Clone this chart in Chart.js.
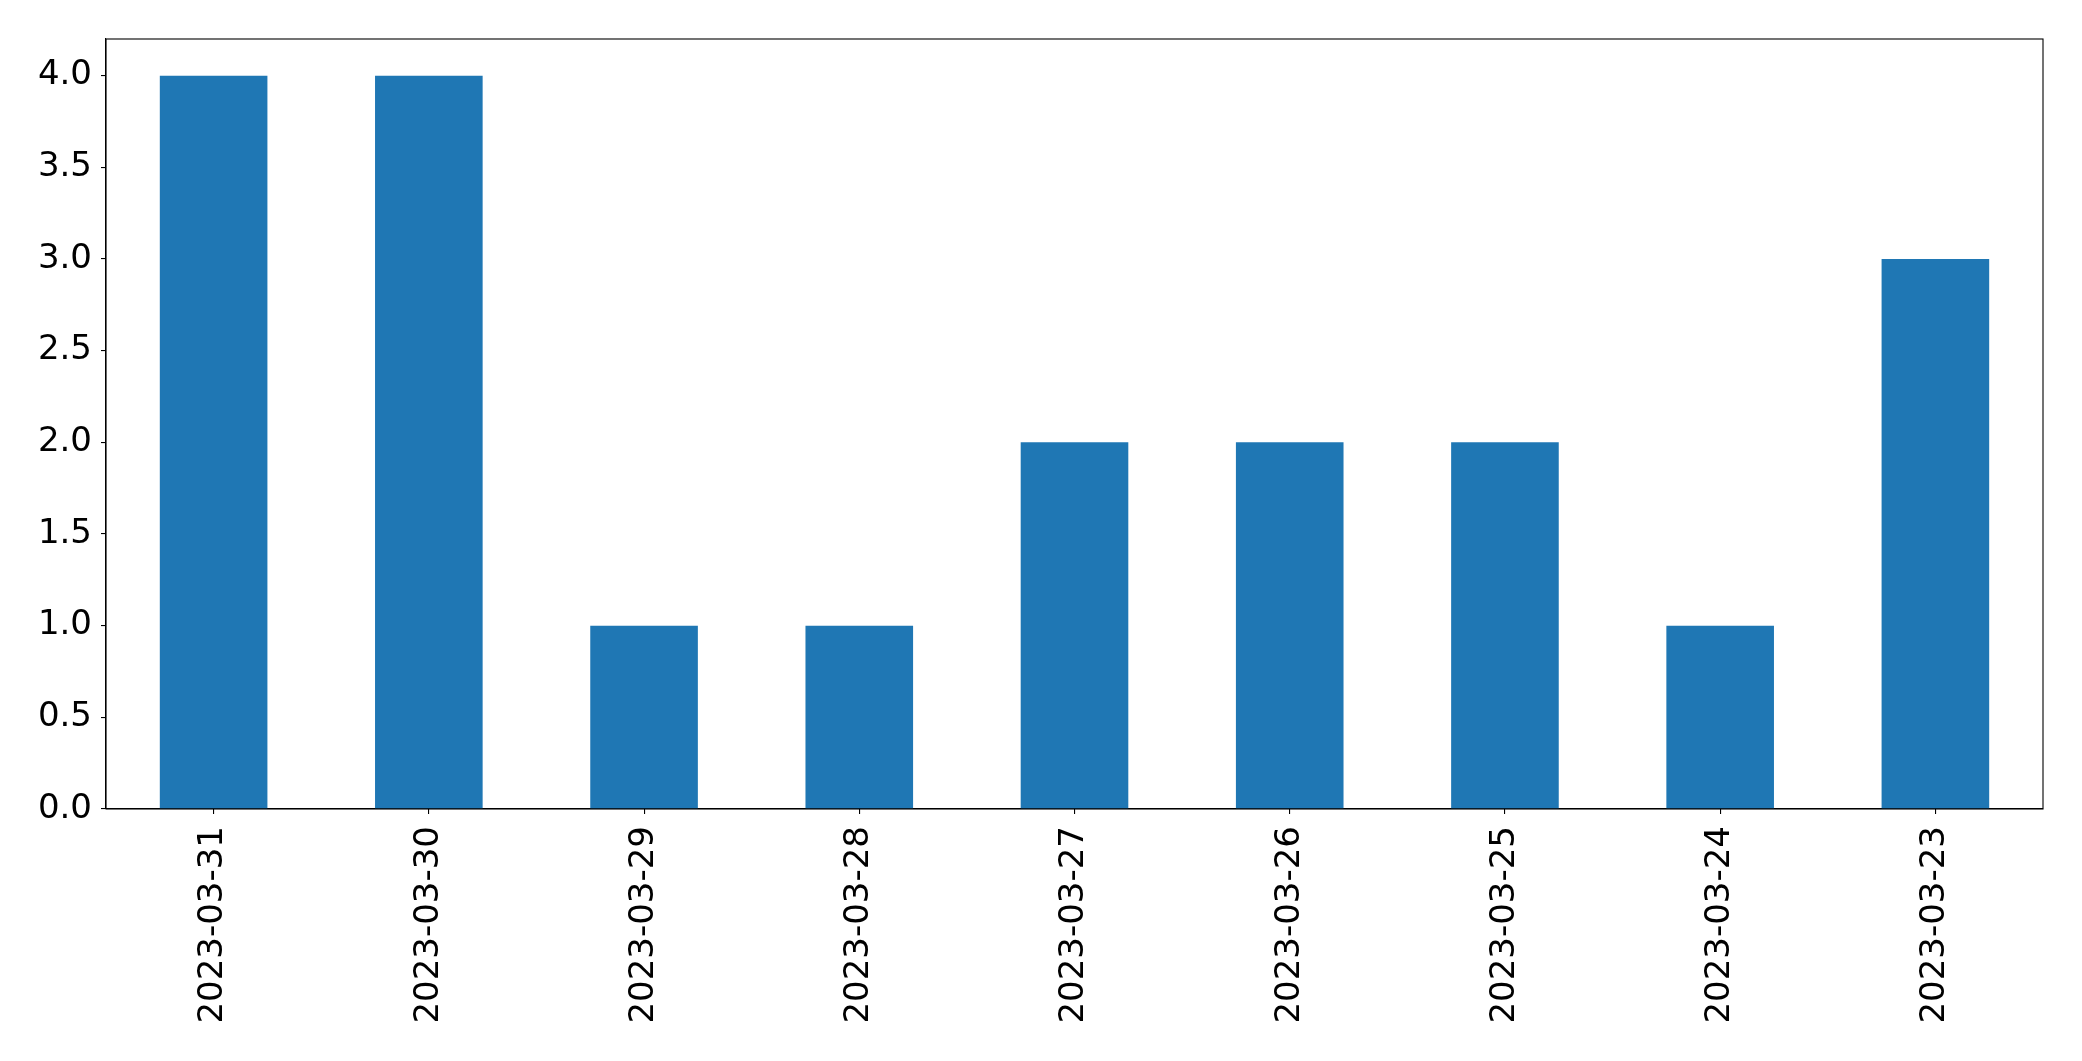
<!DOCTYPE html>
<html>
<head>
<meta charset="utf-8">
<script src="https://cdn.jsdelivr.net/npm/chart.js@4/dist/chart.umd.min.js"></script>
<style>
html,body{margin:0;padding:0;background:#fff;}
#wrap{width:2082px;height:1061px;position:relative;}
</style>
</head>
<body>
<div id="wrap"><canvas id="c" width="2082" height="1061"></canvas></div>
<script>
const categories = ["2023-03-31","2023-03-30","2023-03-29","2023-03-28","2023-03-27","2023-03-26","2023-03-25","2023-03-24","2023-03-23"];
const counts = [4, 4, 1, 1, 2, 2, 2, 1, 3];
const yMin = 0;
const yMax = 4.2;
const yStep = 0.5;

const framePlugin = {
  id: 'frame',
  afterDraw(chart) {
    const a = chart.chartArea, ctx = chart.ctx;
    ctx.save();
    ctx.strokeStyle = '#000';
    ctx.lineWidth = 1.1;
    ctx.strokeRect(a.left, a.top, a.right - a.left, a.bottom - a.top);
    ctx.restore();
  }
};

new Chart(document.getElementById('c'), {
  type: 'bar',
  data: {
    labels: categories,
    datasets: [{
      data: counts,
      backgroundColor: '#1f77b4',
      borderWidth: 0,
      categoryPercentage: 1.0,
      barPercentage: 0.5
    }]
  },
  options: {
    responsive: false,
    animation: false,
    devicePixelRatio: 1,
    layout: { padding: { top: 39, right: 39, left: 0, bottom: 0 } },
    plugins: { legend: { display: false }, tooltip: { enabled: false } },
    scales: {
      x: {
        offset: true,
        grid: { offset: false, drawOnChartArea: false, drawTicks: true, tickLength: 5, color: '#000', lineWidth: 1.1 },
        border: { display: true, color: '#000', width: 1.1 },
        ticks: {
          color: '#000',
          font: { family: 'DejaVu Sans', size: 34 },
          minRotation: 90, maxRotation: 90,
          padding: 12,
          autoSkip: false
        },
        afterFit(s) { s.height = 252; }
      },
      y: {
        min: yMin, max: yMax,
        grid: { drawOnChartArea: false, drawTicks: true, tickLength: 5, color: '#000', lineWidth: 1.1 },
        border: { display: true, color: '#000', width: 1.1 },
        ticks: {
          stepSize: yStep,
          includeBounds: false,
          color: '#000',
          font: { family: 'DejaVu Sans', size: 34 },
          padding: 9,
          callback: v => Number(v).toFixed(1)
        },
        afterFit(s) { s.width = 106; }
      }
    }
  },
  plugins: [framePlugin]
});
</script>
</body>
</html>
